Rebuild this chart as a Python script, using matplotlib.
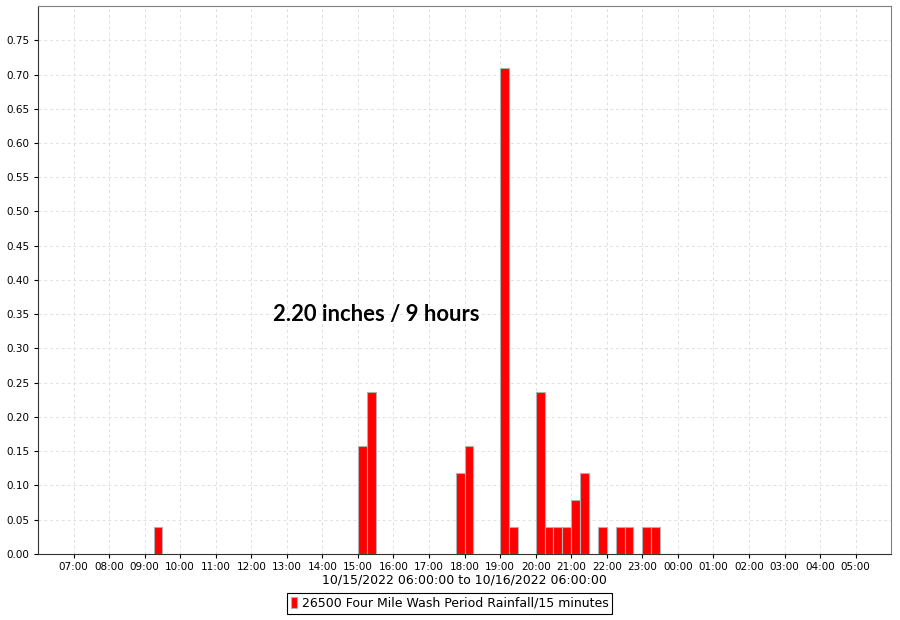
import datetime as dt

import matplotlib
matplotlib.use("Agg")
import matplotlib.pyplot as plt
import matplotlib.dates as mdates

# 15-minute rainfall totals (inches), keyed by interval start time on 10/15/2022
times = ["09:15", "15:00", "15:15", "17:45", "18:00", "19:00", "19:15",
         "20:00", "20:15", "20:30", "20:45", "21:00", "21:15", "21:45",
         "22:15", "22:30", "23:00", "23:15"]
rain = [0.039, 0.157, 0.236, 0.118, 0.157, 0.709, 0.039,
        0.236, 0.039, 0.039, 0.039, 0.079, 0.118, 0.039,
        0.039, 0.039, 0.039, 0.039]

start = dt.datetime(2022, 10, 15, 6, 0)
end = dt.datetime(2022, 10, 16, 6, 0)
stamps = [dt.datetime.combine(start.date(), dt.datetime.strptime(t, "%H:%M").time()) for t in times]

fig = plt.figure(figsize=(9, 6.2), dpi=100)
ax = fig.add_axes([0.0422, 0.1065, 0.948, 0.8838])

ax.bar(stamps, rain, width=dt.timedelta(minutes=15), align="edge",
       color="#ff0000", edgecolor="#b0b0b0", linewidth=0.8, zorder=3,
       label="26500 Four Mile Wash Period Rainfall/15 minutes")

ax.set_xlim(start, end)
ax.set_ylim(0, 0.80)
ax.set_yticks([i * 0.05 for i in range(16)])
ax.yaxis.set_major_formatter(plt.FormatStrFormatter("%.2f"))
ax.xaxis.set_major_locator(mdates.HourLocator(byhour=range(0, 24)))
ax.xaxis.set_major_formatter(mdates.DateFormatter("%H:%M"))
ax.set_xticks([t for t in ax.get_xticks() if mdates.num2date(t).replace(tzinfo=None) not in (start, end)])

ax.grid(True, linestyle=(0, (3, 3)), color="#e0e0e0", linewidth=0.7, zorder=0)
ax.tick_params(labelsize=7.5, length=3, width=0.8, pad=3)
for side in ("top", "right"):
    ax.spines[side].set_color("#808080")
for side in ("left", "bottom"):
    ax.spines[side].set_color("#333333")

ax.set_xlabel("10/15/2022 06:00:00 to 10/16/2022 06:00:00", fontsize=9, labelpad=1)

ax.text(dt.datetime(2022, 10, 15, 15, 31), 0.349, "2.20 inches / 9 hours",
        fontsize=15.8, fontweight="bold", family="Lato", ha="center", va="center")

leg = fig.legend(loc="lower center", bbox_to_anchor=(0.4995, 0.0), fontsize=9,
                 fancybox=False, edgecolor="black", framealpha=1,
                 handlelength=0.5, handleheight=1.0, handletextpad=0.4,
                 borderpad=0.3)
leg.get_frame().set_linewidth(0.8)

fig.savefig("out.png", dpi=100)
